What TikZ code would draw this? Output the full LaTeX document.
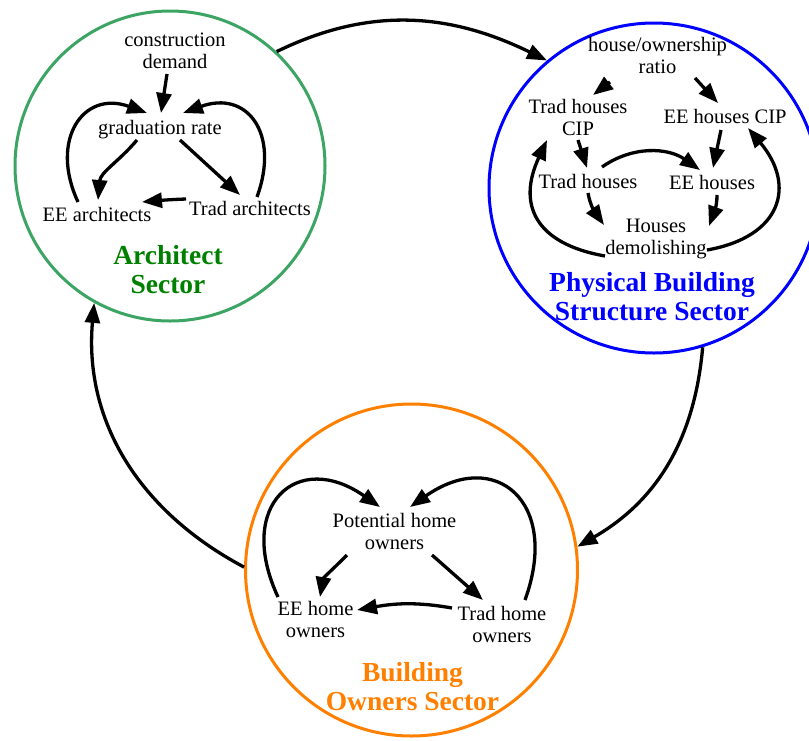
\documentclass[tikz,border=0pt]{standalone}
\usepackage{fontspec}
\setmainfont{Liberation Serif}
\usetikzlibrary{arrows.meta}
\definecolor{secgreen}{RGB}{60,165,100}
\definecolor{ttlgreen}{RGB}{0,128,0}
\definecolor{secblue}{RGB}{0,0,255}
\definecolor{secorange}{RGB}{255,128,0}
\tikzset{
 var/.style={inner sep=0pt, align=center, font=\fontsize{20.5}{22}\selectfont},
 ttl/.style={inner sep=0pt, align=center, font=\fontsize{27.5}{29}\selectfont\bfseries},
 sector/.style={circle, draw, line width=3pt, inner sep=0pt, minimum size=#1},
 link/.style={line width=3.3pt, -{Triangle[length=20pt,width=15pt]}},
}
\begin{document}
\begin{tikzpicture}[x=1pt,y=1pt]
\useasboundingbox (0,0) rectangle (809,-740);
% sector circles
\node[sector=310pt, draw=secgreen] (arch) at (170,-166) {};
\node[sector=330pt, draw=secblue] (phys) at (654,-188) {};
\node[sector=332pt, draw=secorange] (own) at (411.5,-570) {};
% titles
\node[ttl, text=ttlgreen] (archt) at (168,-273) {Architect\strut\\Sector\strut};
\node[ttl, text=secblue] (physt) at (652,-300) {Physical Building\strut\\Structure Sector\strut};
\node[ttl, text=secorange] (ownt) at (412.5,-690.5) {Building\strut\\Owners Sector\strut};
% architect sector
\node[var] (cd) at (175,-53) {construction\strut\\demand\strut};
\node[var] (gr) at (160,-130) {graduation rate\strut};
\node[var] (ee) at (97,-217) {EE architects\strut};
\node[var] (ta) at (250,-211) {Trad architects\strut};
\draw[link] ([shift={(-8,-21)}]cd.center) -- ([shift={(1,17)}]gr.center);
\draw[link] ([shift={(-23,-10)}]gr.center) to[out=230,in=85] ([shift={(1,17)}]ee.center);
\draw[link] ([shift={(20,-10)}]gr.center) -- ([shift={(-10,16)}]ta.center);
\draw[link] ([shift={(-64,12)}]ta.center) to[out=182,in=5] ([shift={(45,15)}]ee.center);
\draw[link] ([shift={(-19,15)}]ee.center) to[out=115,in=160,looseness=1.55] ([shift={(-13,17)}]gr.center);
\draw[link] ([shift={(7,14)}]ta.center) to[out=70,in=20,looseness=1.55] ([shift={(23,17)}]gr.center);
% physical building structure sector
\node[var] (hor) at (657.5,-58.5) {house/ownership\strut\\ratio\strut};
\node[var] (tcip) at (578,-120.5) {Trad houses\strut\\CIP\strut};
\node[var] (ecip) at (725,-119) {EE houses CIP\strut};
\node[var] (th) at (588,-184) {Trad houses\strut};
\node[var] (eh) at (712,-185) {EE houses\strut};
\node[var] (hd) at (656,-239.5) {Houses\strut\\demolishing\strut};
\draw[link] ([shift={(-47.5,-23.5)}]hor.center) -- ([shift={(15,25.5)}]tcip.center);
\draw[link] ([shift={(37.5,-19.5)}]hor.center) -- ([shift={(-7,16)}]ecip.center);
\draw[link] ([shift={(0,-19.5)}]tcip.center) -- ([shift={(-1,16)}]th.center);
\draw[link] ([shift={(-4,-11)}]ecip.center) -- ([shift={(1,17)}]eh.center);
\draw[link] ([shift={(14,17)}]th.center) to[out=35,in=145] ([shift={(-12,15)}]eh.center);
\draw[link] ([shift={(0,-9)}]th.center) to[out=-80,in=125] ([shift={(-52,14.5)}]hd.center);
\draw[link] ([shift={(5,-10)}]eh.center) to[out=-90,in=70] ([shift={(53,13.5)}]hd.center);
\draw[link] ([shift={(-51,-16.5)}]hd.center) to[out=170,in=245,looseness=1.4] ([shift={(-31,-19.5)}]tcip.center);
\draw[link] ([shift={(51,-10.5)}]hd.center) to[out=10,in=310,looseness=1.5] ([shift={(23,-9)}]ecip.center);
% building owners sector
\node[var] (pho) at (394.5,-534) {Potential home\strut\\owners\strut};
\node[var] (eho) at (315.5,-622) {EE home\strut\\owners\strut};
\node[var] (tho) at (502,-627.5) {Trad home\strut\\owners\strut};
\draw[link] ([shift={(-47.5,-21)}]pho.center) to[out=225,in=80] ([shift={(4.5,25)}]eho.center);
\draw[link] ([shift={(37.5,-21)}]pho.center) -- ([shift={(-19,27.5)}]tho.center);
\draw[link] ([shift={(-50,19.5)}]tho.center) to[out=170,in=10] ([shift={(41.5,12)}]eho.center);
\draw[link] ([shift={(-37.5,25)}]eho.center) to[out=115,in=145,looseness=1.9] ([shift={(-14.5,27)}]pho.center);
\draw[link] ([shift={(23,27.5)}]tho.center) to[out=70,in=35,looseness=1.8] ([shift={(15.5,27)}]pho.center);
% inter-sector links
\draw[link] (arch.47) to[out=26,in=154] (phys.130);
\draw[link] (phys.-73) to[out=265,in=30] (own.8.5);
\draw[link] (own.179) to[out=152,in=265] (arch.241.4);
\end{tikzpicture}
\end{document}
